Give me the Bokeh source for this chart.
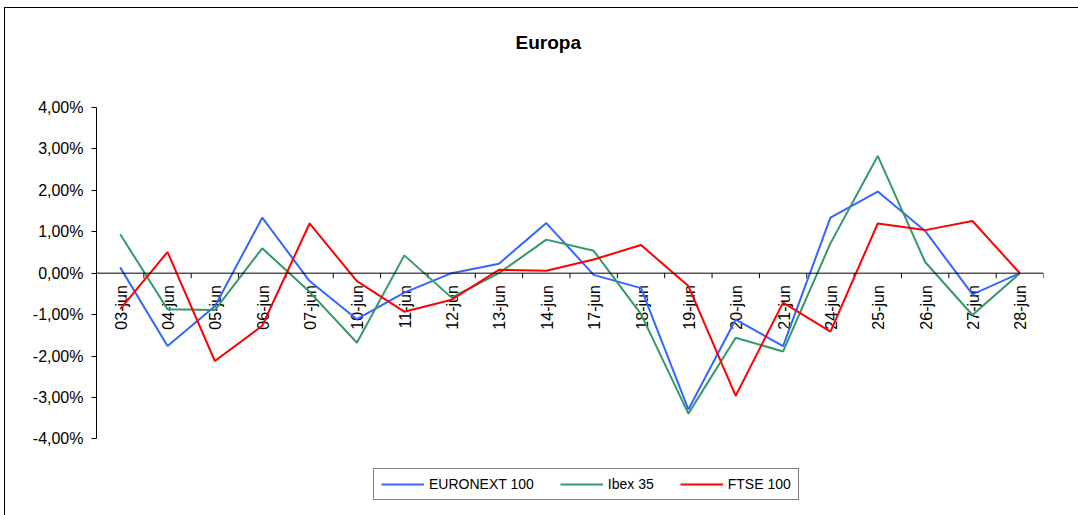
import math
import numpy as np
from bokeh.plotting import figure
from bokeh.models import (Range1d, FixedTicker, CustomJSTickFormatter, Legend,
                          LegendItem, Title, Span)
from bokeh.core.properties import value
from bokeh.embed import file_html
from bokeh.resources import INLINE

dates = ["03-jun", "04-jun", "05-jun", "06-jun", "07-jun", "10-jun", "11-jun",
         "12-jun", "13-jun", "14-jun", "17-jun", "18-jun", "19-jun", "20-jun",
         "21-jun", "24-jun", "25-jun", "26-jun", "27-jun", "28-jun"]

# daily change, percent
euronext = [0.14, -1.76, -0.80, 1.34, -0.19, -1.11, -0.47, 0.00, 0.23, 1.21,
            -0.04, -0.36, -3.29, -1.12, -1.76, 1.34, 1.97, 1.02, -0.51, 0.00]
ibex = [0.94, -0.87, -0.89, 0.60, -0.45, -1.68, 0.43, -0.59, 0.00, 0.81,
        0.54, -0.99, -3.39, -1.56, -1.89, 0.72, 2.83, 0.27, -1.01, 0.00]
ftse = [-0.87, 0.51, -2.12, -1.27, 1.20, -0.19, -0.93, -0.64, 0.08, 0.06,
        0.33, 0.68, -0.31, -2.96, -0.71, -1.41, 1.20, 1.04, 1.26, 0.00]

series_names = ["EURONEXT 100", "Ibex 35", "FTSE 100"]
series_colors = ["#3366FF", "#339966", "#FF0000"]
y_ticks = [-4, -3, -2, -1, 0, 1, 2, 3, 4]

FONT = "Liberation Sans"

n = len(dates)
xs = np.arange(n) + 0.5
bounds = np.arange(n + 1)

# plot area extends below the value axis to hold the legend
p = figure(width=1073, height=507, output_backend="svg", toolbar_location=None,
           x_range=Range1d(0, n), y_range=Range1d(-5.85, y_ticks[-1]),
           min_border_left=91, min_border_right=35, min_border_top=99,
           min_border_bottom=0, title="Europa", x_axis_location=None)
p.styles = {"margin-left": "5px", "margin-top": "8px",
            "outline": "1px solid #000000"}
p.outline_line_color = None
p.xgrid.grid_line_color = None
p.ygrid.grid_line_color = None
p.background_fill_color = "white"
p.border_fill_color = "white"

p.title.align = "left"
p.title.offset = 419
p.title.text_font = FONT
p.title.text_font_size = "19px"
p.title.text_font_style = "bold"
p.title.text_color = "black"
# spacer between title and plot area
p.add_layout(Title(text=" ", text_font_size="34px"), "above")

# category axis crossing at zero
p.add_layout(Span(location=0, dimension="width", line_color="black", line_width=1))
p.ray(x=bounds, y=0, length=5, length_units="screen", angle=-math.pi / 2,
      line_color="black", line_width=1)
p.text(x=xs, y=0, text=dates, angle=math.pi / 2, y_offset=12, x_offset=1,
       text_align="right", text_baseline="middle", text_font=value(FONT),
       text_font_size="16px", text_color="black")

renderers = []
for vals, col in zip([euronext, ibex, ftse], series_colors):
    r = p.line(xs, vals, line_color=col, line_width=2)
    renderers.append(r)

ya = p.yaxis[0]
ya.bounds = (y_ticks[0], y_ticks[-1])
ya.ticker = FixedTicker(ticks=y_ticks)
ya.formatter = CustomJSTickFormatter(
    code="return tick.toFixed(2).replace('.', ',') + '%';")
ya.major_tick_out = 5
ya.major_tick_in = 0
ya.minor_tick_line_color = None
ya.axis_line_color = "black"
ya.major_tick_line_color = "black"
ya.major_label_standoff = 8
ya.major_label_text_font = FONT
ya.major_label_text_font_size = "16px"
ya.major_label_text_color = "black"

items = [LegendItem(label=nm, renderers=[r]) for nm, r in zip(series_names, renderers)]
legend = Legend(items=items, orientation="horizontal", location=(277, 15),
                border_line_color="black", border_line_width=1,
                label_text_font=FONT, label_text_font_size="14px",
                label_text_color="black", glyph_width=43, glyph_height=14,
                label_height=14, label_standoff=5, spacing=26, padding=7,
                margin=0, background_fill_alpha=1)
p.add_layout(legend, "center")

open("out.html", "w").write(file_html(p, INLINE))
